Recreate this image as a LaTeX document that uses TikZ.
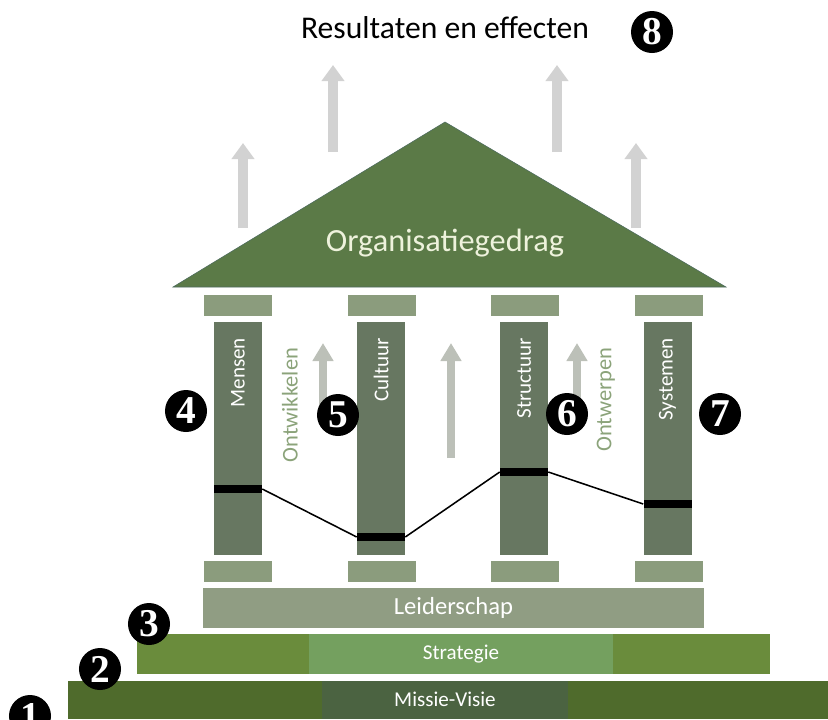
\documentclass[tikz,border=0pt]{standalone}
\usepackage{fontspec}
\setmainfont{Carlito}
\newfontfamily\numfont{Liberation Serif}
\usetikzlibrary{positioning,arrows.meta}

\definecolor{roofgreen}{HTML}{5B7A47}
\definecolor{roofedge}{HTML}{4D6B5E}
\definecolor{capgreen}{HTML}{8B9C7D}
\definecolor{pillargreen}{HTML}{677761}
\definecolor{leadgreen}{HTML}{909D83}
\definecolor{stratouter}{HTML}{6A8C3C}
\definecolor{stratinner}{HTML}{74A05F}
\definecolor{missouter}{HTML}{4F6B2C}
\definecolor{missinner}{HTML}{4B6341}
\definecolor{biggray}{HTML}{D2D2D2}
\definecolor{smallgray}{HTML}{BCC0B8}
\definecolor{verbgreen}{HTML}{8BA37A}
\definecolor{rooftext}{HTML}{EEF2DC}

\tikzset{
  bigarrow/.style={biggray, line width=0.23cm, -{Triangle[width=0.55cm,length=0.4cm]}},
  smallarrow/.style={smallgray, line width=0.2cm, -{Triangle[width=0.5cm,length=0.45cm]}},
  pillar/.style={fill=pillargreen, inner sep=0, minimum width=1.2cm, minimum height=5.825cm},
  capblock/.style={fill=capgreen, inner sep=0, minimum width=1.7cm, minimum height=0.525cm},
  marker/.style={fill=black, inner sep=0, minimum width=1.2cm, minimum height=0.18cm},
  pillartext/.style={text=white, rotate=90, anchor=east, font=\fontsize{15}{15}\selectfont},
  verbtext/.style={text=verbgreen, rotate=90, anchor=east, font=\fontsize{16}{16}\selectfont},
  num/.style={circle, fill=black, text=white, inner sep=0, minimum size=1.05cm,
    font=\numfont\bfseries\fontsize{28}{28}\selectfont}
}

\begin{document}
\begin{tikzpicture}[x=0.025cm, y=-0.025cm]
\useasboundingbox (0,0) rectangle (828,719);

% results on top
\node (result) at (445,28) {\fontsize{22.5}{22.5}\selectfont Resultaten en effecten};
\node[num] (n8) at (652,32) {8};

\draw[bigarrow] (333,152) -- (333,65);
\draw[bigarrow] (557,152) -- (557,65);
\draw[bigarrow] (243,228) -- (243,143);
\draw[bigarrow] (636,228) -- (636,143);

% roof
\fill[roofgreen, draw=roofedge] (173,287) -- (445,122) -- (726,287) -- cycle;
\node[text=rooftext, font=\fontsize{23}{23}\selectfont] (roof) at (445,243) {Organisatiegedrag};

% arrows between the pillars
\draw[smallarrow] (323,410) -- (323,343);
\draw[smallarrow] (451,458) -- (451,343);
\draw[smallarrow] (577,410) -- (577,343);

% capitals and bases
\node[capblock] (capA) at (238,305.5) {};
\node[capblock] (capB) at (382,305.5) {};
\node[capblock] (capC) at (525,305.5) {};
\node[capblock] (capD) at (669,305.5) {};
\node[capblock] (baseA) at (238,571.5) {};
\node[capblock] (baseB) at (382,571.5) {};
\node[capblock] (baseC) at (525,571.5) {};
\node[capblock] (baseD) at (669,571.5) {};

% pillars
\node[pillar] (mensen) at (238,438.5) {};
\node[pillar] (cultuur) at (381,438.5) {};
\node[pillar] (structuur) at (524,438.5) {};
\node[pillar] (systemen) at (667.5,438.5) {};

\node[pillartext] at (238,333) {Mensen};
\node[pillartext] at (381,333) {Cultuur};
\node[pillartext] at (524,333) {Structuur};
\node[pillartext] at (667.5,333) {Systemen};

\node[verbtext] at (290,343) {Ontwikkelen};
\node[verbtext] at (606,343) {Ontwerpen};

% levels on the pillars
\node[marker] (mA) at (238,489) {};
\node[marker] (mB) at (381,537) {};
\node[marker] (mC) at (524,472) {};
\node[marker] (mD) at (667.5,504) {};
\draw[line width=1.1pt] (mA.east) -- (mB.west);
\draw[line width=1.1pt] (mB.east) -- (mC.west);
\draw[line width=1.1pt] (mC.east) -- (mD.west);

% foundation
\fill[leadgreen] (203,588) rectangle (704,628);
\node[text=white, font=\fontsize{17.5}{17.5}\selectfont] (lead) at (453.5,608) {Leiderschap};

\fill[stratouter] (137,634) rectangle (770,674);
\fill[stratinner] (309,634) rectangle (613,674);
\node[text=white, font=\fontsize{15}{15}\selectfont] (strat) at (461,654) {Strategie};

\fill[missouter] (68,681) rectangle (828,719);
\fill[missinner] (322,681) rectangle (568,719);
\node[text=white, font=\fontsize{15}{15}\selectfont] (miss) at (445,699) {Missie-Visie};

% numbers
\node[num] (n1) at (30,716) {1};
\node[num] (n2) at (100,669) {2};
\node[num] (n3) at (149,624) {3};
\node[num] (n4) at (186,411) {4};
\node[num] (n5) at (338,415) {5};
\node[num] (n6) at (567,414) {6};
\node[num] (n7) at (720,414) {7};
\end{tikzpicture}
\end{document}
